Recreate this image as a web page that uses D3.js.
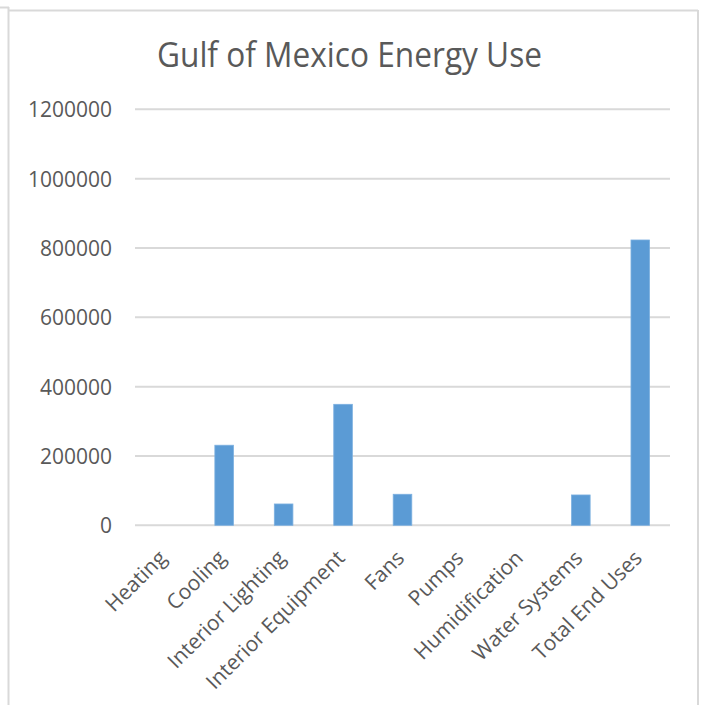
<!DOCTYPE html>
<html>
<head>
<meta charset="utf-8">
<script src="https://cdn.jsdelivr.net/npm/d3@7"></script>
<style>
  html, body { margin: 0; padding: 0; background: #fff; }
  svg { display: block; }
  text { font-family: "Open Sans", sans-serif; fill: #595959; }
</style>
</head>
<body>
<script>
const categories = ["Heating", "Cooling", "Interior Lighting", "Interior Equipment", "Fans", "Pumps", "Humidification", "Water Systems", "Total End Uses"];
const values = [0, 231000, 61500, 349000, 89500, 0, 0, 87500, 823000];
const yTicks = [0, 200000, 400000, 600000, 800000, 1000000, 1200000];
const title = "Gulf of Mexico Energy Use";

const W = 704, H = 705;
const svg = d3.select("body").append("svg").attr("width", W).attr("height", H);

// chart frame
const frame = svg.append("g").attr("stroke", "#d9d9d9").attr("stroke-width", 2).attr("fill", "none");
frame.append("line").attr("x1", 8.5).attr("x2", 8.5).attr("y1", 7).attr("y2", H);
frame.append("line").attr("x1", 0).attr("x2", 9).attr("y1", 7.5).attr("y2", 7.5);
frame.append("line").attr("x1", 9).attr("x2", 698).attr("y1", 10.5).attr("y2", 10.5);
frame.append("line").attr("x1", 698).attr("x2", 698).attr("y1", 10).attr("y2", H);

const plotLeft = 135, plotRight = 670, plotTop = 109.3, plotBottom = 525.3;

const x = d3.scaleBand().domain(categories).range([plotLeft, plotRight]).paddingInner(0.687).paddingOuter(0.3435);
const y = d3.scaleLinear().domain([0, 1200000]).range([plotBottom, plotTop]);

// gridlines
svg.append("g").selectAll("line").data(yTicks).join("line")
  .attr("x1", plotLeft).attr("x2", plotRight)
  .attr("y1", d => y(d)).attr("y2", d => y(d))
  .attr("stroke", "#d9d9d9").attr("stroke-width", 2);

// y axis labels
const yAxis = d3.axisLeft(y).tickValues(yTicks).tickSize(0).tickPadding(0).tickFormat(d3.format("d"));
const yg = svg.append("g").attr("transform", `translate(112,0)`).call(yAxis);
yg.select(".domain").remove();
yg.selectAll("text").attr("font-size", 21).attr("fill", "#595959").attr("font-family", "Open Sans, sans-serif")
  .attr("dy", "0.36em");

// bars
svg.append("g").selectAll("rect").data(values).join("rect")
  .attr("x", (d, i) => x(categories[i]))
  .attr("width", x.bandwidth())
  .attr("y", d => y(d))
  .attr("height", d => y(0) - y(d))
  .attr("fill", "#5b9bd5")
  .attr("stroke", "#7cb0e0").attr("stroke-width", 0.8);

// x axis labels
const xAxis = d3.axisBottom(x).tickSize(0).tickPadding(0);
const xg = svg.append("g").attr("transform", `translate(0,${plotBottom})`).call(xAxis);
xg.select(".domain").remove();
xg.selectAll("text")
  .attr("font-size", 21).attr("fill", "#595959").attr("font-family", "Open Sans, sans-serif")
  .attr("text-anchor", "end")
  .attr("y", 0).attr("dy", 0)
  .attr("transform", "translate(3,34) rotate(-45)");

// title
svg.append("text")
  .attr("x", 349.5).attr("y", 67)
  .attr("text-anchor", "middle")
  .attr("font-size", 35)
  .attr("textLength", 385).attr("lengthAdjust", "spacingAndGlyphs")
  .attr("fill", "#595959")
  .text(title);
</script>
</body>
</html>
